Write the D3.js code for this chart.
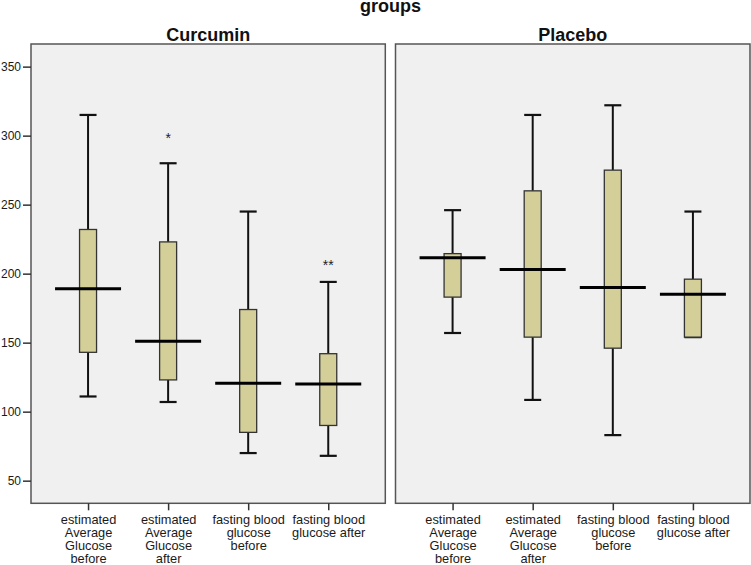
<!DOCTYPE html>
<html><head><meta charset="utf-8">
<script src="https://cdn.jsdelivr.net/npm/d3@7"></script>
<style>body{margin:0;background:#fff}svg{display:block}text{font-family:"Liberation Sans",Arial,sans-serif}</style>
</head><body><svg id="c" width="751" height="565"></svg>
<script>
// ---- data ----
const categories = ["eAG before","eAG after","FBG before","FBG after"];
const categoryLabels = [
  ["estimated","Average","Glucose","before"],
  ["estimated","Average","Glucose","after"],
  ["fasting blood","glucose","before"],
  ["fasting blood","glucose after"]
];
const groups = ["Curcumin","Placebo"];
const yTicks = [50,100,150,200,250,300,350];
// [whiskerLow, Q1, median, Q3, whiskerHigh]
const curcuminStats = [
  [111,143,189,232,315],
  [107,123,151,223,280],
  [70,85,120.5,174,245],
  [68,90,120,142,194]
];
const placeboStats = [
  [157,183,211.5,214.5,246],
  [108.5,154,203,260,315],
  [83,146,190,275,322],
  [154,154,185,196,245]
];
const curcuminExtremes = [[],[300],[],[207.5,207.5]];
const placeboExtremes = [[],[],[],[]];

// ---- layout ----
const svg = d3.select("#c");
const panelTop = 44, panelBottom = 503.3;
const panels = [
  {name: groups[0], x0: 31, x1: 385.3, stats: curcuminStats, ext: curcuminExtremes},
  {name: groups[1], x0: 395.5, x1: 750, stats: placeboStats, ext: placeboExtremes}
];
const y = d3.scaleLinear().domain([33.6, 366.4]).range([panelBottom, panelTop]);
const boxW = 17, medW = 66, capW = 17;

svg.append("text").attr("x", 390.5).attr("y", 12).attr("text-anchor","middle")
  .attr("font-size", 18).attr("font-weight","bold").attr("fill","#111").text("groups");

panels.forEach((p, pi) => {
  const x = d3.scalePoint().domain(categories).range([p.x0, p.x1]).padding(0.7125);
  const g = svg.append("g");
  g.append("rect").attr("x", p.x0).attr("y", panelTop).attr("width", p.x1 - p.x0)
    .attr("height", panelBottom - panelTop).attr("fill", "#f0f0f0")
    .attr("stroke", "#555").attr("stroke-width", 1.5);
  g.append("text").attr("x", (p.x0 + p.x1) / 2).attr("y", 41).attr("text-anchor","middle")
    .attr("font-size", 18).attr("font-weight","bold").attr("fill","#111").text(p.name);

  // x axis
  const xa = g.append("g").attr("transform", `translate(0,${panelBottom})`)
    .call(d3.axisBottom(x).tickSize(7).tickFormat(""));
  xa.select(".domain").remove();
  xa.selectAll(".tick line").attr("stroke", "#333").attr("stroke-width", 1.5);
  xa.selectAll(".tick").each(function(d, i) {
    const t = d3.select(this).append("text").attr("fill", "#1a1a1a").attr("font-size", 12.8)
      .attr("text-anchor", "middle").attr("y", 21);
    categoryLabels[i].forEach((line, li) => {
      t.append("tspan").attr("x", 0).attr("dy", li === 0 ? 0 : 12.9).text(line);
    });
  });

  if (pi === 0) {
    const ya = g.append("g").attr("transform", `translate(${p.x0},0)`)
      .call(d3.axisLeft(y).tickValues(yTicks).tickSize(8).tickPadding(2));
    ya.select(".domain").remove();
    ya.selectAll(".tick line").attr("stroke", "#333").attr("stroke-width", 1.5);
    ya.selectAll(".tick text").attr("font-size", 12).attr("fill", "#1a1a1a")
      .attr("font-family", '"Liberation Sans",Arial,sans-serif');
  }

  categories.forEach((c, i) => {
    const [lo, q1, med, q3, hi] = p.stats[i];
    const cx = x(c);
    const bg = g.append("g");
    // whiskers
    bg.append("line").attr("x1", cx).attr("x2", cx).attr("y1", y(hi)).attr("y2", y(q3))
      .attr("stroke", "#111").attr("stroke-width", 2);
    bg.append("line").attr("x1", cx).attr("x2", cx).attr("y1", y(q1)).attr("y2", y(lo))
      .attr("stroke", "#111").attr("stroke-width", 2);
    [hi, lo].forEach(v => {
      bg.append("line").attr("x1", cx - capW / 2).attr("x2", cx + capW / 2)
        .attr("y1", y(v)).attr("y2", y(v)).attr("stroke", "#111").attr("stroke-width", 2.2);
    });
    // box
    bg.append("rect").attr("x", cx - boxW / 2).attr("y", y(q3)).attr("width", boxW)
      .attr("height", Math.max(0, y(q1) - y(q3))).attr("fill", "#d4cf98")
      .attr("stroke", "#333").attr("stroke-width", 1.3);
    // median
    bg.append("line").attr("x1", cx - medW / 2).attr("x2", cx + medW / 2)
      .attr("y1", y(med)).attr("y2", y(med)).attr("stroke", "#000").attr("stroke-width", 3);
    // extremes
    const counts = d3.rollup(p.ext[i], v => v.length, v => v);
    counts.forEach((n, v) => {
      bg.append("text").attr("x", cx).attr("y", y(v)).attr("dy", "0.5em")
        .attr("text-anchor", "middle").attr("font-size", 14).attr("fill", "#222")
        .text("*".repeat(n));
    });
  });
});
</script></body></html>
